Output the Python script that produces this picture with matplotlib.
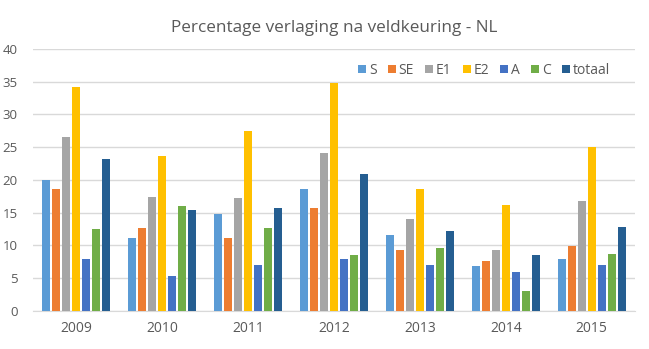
import numpy as np
import matplotlib
matplotlib.use("Agg")
import matplotlib.pyplot as plt

plt.rcParams['font.family'] = ['Open Sans', 'DejaVu Sans']

years = ["2009", "2010", "2011", "2012", "2013", "2014", "2015"]
series = ["S", "SE", "E1", "E2", "A", "C", "totaal"]
S = [20.0, 11.1, 14.8, 18.6, 11.6, 6.8, 7.9]
SE = [18.6, 12.65, 11.1, 15.7, 9.3, 7.6, 9.9]
E1 = [26.6, 17.4, 17.2, 24.1, 14.0, 9.3, 16.8]
E2 = [34.2, 23.7, 27.5, 34.8, 18.6, 16.2, 25.0]
A = [7.9, 5.3, 7.0, 7.9, 7.0, 5.9, 7.0]
C = [12.5, 16.0, 12.65, 8.5, 9.6, 3.0, 8.7]
totaal = [23.2, 15.4, 15.7, 20.9, 12.2, 8.5, 12.8]
values = [S, SE, E1, E2, A, C, totaal]
colors = ["#5B9BD5", "#ED7D31", "#A5A5A5", "#FFC000", "#4472C4", "#70AD47", "#255E91"]

fig = plt.figure(figsize=(6.49, 3.49), dpi=100)
ax = fig.add_axes([0.051, 0.109, 0.927, 0.751])

x = np.arange(len(years))
step = 0.1163
w = 0.093
for i, (name, vals, col) in enumerate(zip(series, values, colors)):
    ax.bar(x + (i - 3) * step, vals, width=w, color=col, label=name, zorder=3)

ax.set_xlim(-0.5, len(years) - 0.5)
ax.set_ylim(0, 40)
ax.set_yticks(range(0, 41, 5))
ax.set_xticks(x)
ax.set_xticklabels(years)
ax.yaxis.grid(True, color="#D9D9D9", linewidth=1, zorder=0)
for s in ["top", "right", "left"]:
    ax.spines[s].set_visible(False)
ax.spines["bottom"].set_color("#D9D9D9")
ax.tick_params(axis="both", length=0, colors="#595959", labelsize=10)
ax.tick_params(axis="x", pad=7)
ax.tick_params(axis="y", pad=11, labelsize=9.5)

ax.set_title("Percentage verlaging na veldkeuring - NL", fontsize=12.3, color="#595959", pad=12)

leg = ax.legend(loc="upper right", bbox_to_anchor=(0.968, 0.968), ncol=7, frameon=False,
                handlelength=0.58, handleheight=0.58, handletextpad=0.2, columnspacing=0.8,
                fontsize=10, borderaxespad=0)
for t in leg.get_texts():
    t.set_color("#595959")

fig.savefig("out.png", dpi=100)
